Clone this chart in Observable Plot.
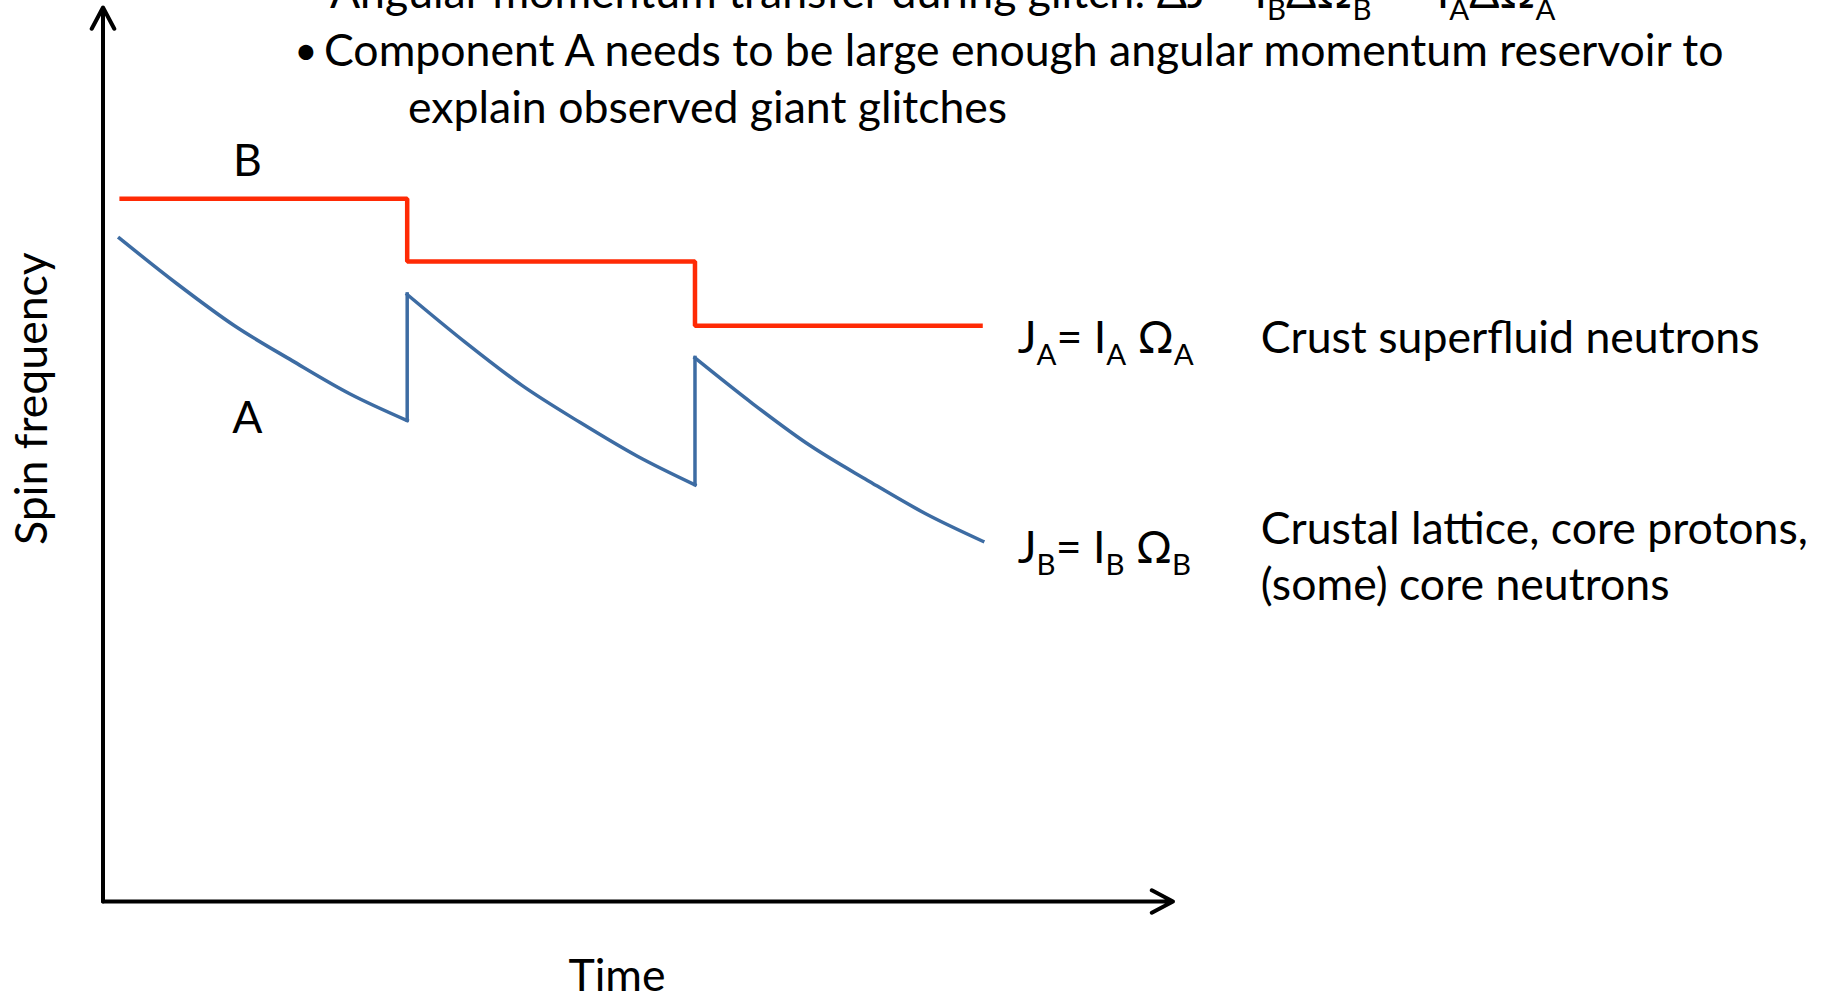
<!DOCTYPE html>
<html>
<head>
<meta charset="utf-8">
<script src="https://cdn.jsdelivr.net/npm/d3@7"></script>
<script src="https://cdn.jsdelivr.net/npm/@observablehq/plot@0.6"></script>
<style>
  html, body { margin: 0; padding: 0; background: #fff; overflow: hidden; }
  #chart { width: 1826px; height: 995px; }
</style>
</head>
<body>
<div id="chart"></div>
<script>
// ---------------- data ----------------
// Component B (red): step levels at glitch times
const stepTimes = [0, 1, 2, 3];
const levelB = [78.6, 71.6, 64.4, 64.4];

// Component A (blue): three decaying segments between glitches
const segTimes = [
  [0.0, 0.2, 0.4, 0.6, 0.8, 1.0],
  [1.0, 1.2, 1.4, 1.6, 1.8, 2.0],
  [2.0, 2.2, 2.4, 2.6, 2.8, 3.0]
];
const segValues = [
  [74.2, 69.1, 64.4, 60.5, 56.8, 53.8],
  [67.9, 62.6, 57.7, 53.6, 49.8, 46.6],
  [60.8, 55.7, 51.0, 47.1, 43.4, 40.3]
];

// axis extents (time, spin frequency)
const axisX = [-0.057, 3.661];
const axisY = [0, 100];

// texts
const titleLines = [
  "Angular momentum transfer during glitch: ΔJ = I_BΔΩ_B = -I_AΔΩ_A",
  "Component A needs to be large enough angular momentum reservoir to",
  "explain observed giant glitches"
];
const seriesLabels = ["B", "A"];
const eqLabels = ["J_A= I_A Ω_A", "J_B= I_B Ω_B"];
const descLabels = ["Crust superfluid neutrons", "Crustal lattice, core protons,\n(some) core neutrons"];
const xLabel = "Time";
const yLabel = "Spin frequency";

// ---------------- build tables ----------------
const redPts = stepTimes.map((t, i) => ({t, v: levelB[i]}));
const bluePts = segTimes.flatMap((ts, s) => ts.map((t, i) => ({seg: s, t, v: segValues[s][i]})));
const jumps = segTimes.slice(1).map((ts, s) => ({
  t: ts[0],
  lo: segValues[s][segValues[s].length - 1],
  hi: segValues[s + 1][0]
}));
const axes = [
  {x1: axisX[0], y1: axisY[0], x2: axisX[0], y2: axisY[1]},
  {x1: axisX[0], y1: axisY[0], x2: axisX[1], y2: axisY[0]}
];
const last = a => a[a.length - 1];
const redEnd = [{t: last(stepTimes), v: last(levelB)}];
const blueEnd = [{t: last(last(segTimes)), v: last(last(segValues))}];
const redStart = [{t: stepTimes[0], v: levelB[0]}];
const blueSeg1End = [{t: segTimes[0][0], v: last(segValues[0])}];

// ---------------- font fitting ----------------
const FONT = "Lato, 'Open Sans', sans-serif";
function fitFontSize() {
  const ctx = document.createElement("canvas").getContext("2d");
  ctx.font = "100px Lato";
  const targets = [
    ["explain observed giant glitches", 597],
    ["Component A needs to be large enough angular momentum reservoir to", 1411],
    ["Crust superfluid neutrons", 495],
    ["Crustal lattice, core protons,", 547],
    ["(some) core neutrons", 417],
    ["Time", 96]
  ];
  return d3.mean(targets, ([s, w]) => w / ctx.measureText(s).width * 100);
}
const fs = fitFontSize();

const RED = "#ff2a05";
const BLUE = "#3d6ca3";

const plot = Plot.plot({
  width: 1826,
  height: 995,
  marginLeft: 102.5,
  marginRight: 653.5,
  marginTop: 7,
  marginBottom: 94,
  x: {domain: axisX, axis: null},
  y: {domain: axisY, axis: null},
  style: {background: "white", color: "black", overflow: "visible"},
  marks: [
    Plot.arrow(axes, {x1: "x1", y1: "y1", x2: "x2", y2: "y2", stroke: "black", strokeWidth: 4, headLength: 9, headAngle: 56}),
    Plot.line(redPts, {x: "t", y: "v", curve: "step-after", stroke: RED, strokeWidth: 4.5, strokeLinejoin: "miter", strokeLinecap: "butt"}),
    Plot.line(bluePts, {x: "t", y: "v", z: "seg", curve: "monotone-x", stroke: BLUE, strokeWidth: 3.5, strokeLinecap: "square"}),
    Plot.ruleX(jumps, {x: "t", y1: "lo", y2: "hi", stroke: BLUE, strokeWidth: 3.5, strokeLinecap: "square"}),

    // series labels
    Plot.text(redStart, {x: "t", y: "v", text: () => seriesLabels[0], dx: 128, dy: -23, lineAnchor: "bottom", textAnchor: "middle", fontFamily: FONT, fontSize: fs}),
    Plot.text(blueSeg1End, {x: "t", y: "v", text: () => seriesLabels[1], dx: 128, dy: 12, lineAnchor: "bottom", textAnchor: "middle", fontFamily: FONT, fontSize: fs}),

    // equations & descriptions
    Plot.text(redEnd, {x: "t", y: "v", text: () => eqLabels[0], dx: 35, dy: 27, lineAnchor: "bottom", textAnchor: "start", fontFamily: FONT, fontSize: fs}),
    Plot.text(blueEnd, {x: "t", y: "v", text: () => eqLabels[1], dx: 35, dy: 22, lineAnchor: "bottom", textAnchor: "start", fontFamily: FONT, fontSize: fs}),
    Plot.text(redEnd, {x: "t", y: "v", text: () => descLabels[0], dx: 278, dy: 27, lineAnchor: "bottom", textAnchor: "start", fontFamily: FONT, fontSize: fs}),
    Plot.text(blueEnd, {x: "t", y: "v", text: () => descLabels[1], dx: 278, dy: 59, lineAnchor: "bottom", textAnchor: "start", lineHeight: 56 / fs, fontFamily: FONT, fontSize: fs}),

    // axis labels
    Plot.text([xLabel], {frameAnchor: "bottom", dx: -21, dy: 89, lineAnchor: "bottom", textAnchor: "middle", fontFamily: FONT, fontSize: fs}),
    Plot.text([yLabel], {frameAnchor: "left", rotate: -90, dx: -56, dy: -56, lineAnchor: "bottom", textAnchor: "middle", fontFamily: FONT, fontSize: fs}),

    // bullet text at top
    Plot.text([titleLines[0]], {frameAnchor: "top-left", dx: 227, dy: 0, lineAnchor: "bottom", textAnchor: "start", fontFamily: FONT, fontSize: fs}),
    Plot.text(["•"], {frameAnchor: "top-left", dx: 203, dy: 57, lineAnchor: "bottom", textAnchor: "middle", fontFamily: FONT, fontSize: fs * 0.9}),
    Plot.text([titleLines[1]], {frameAnchor: "top-left", dx: 221, dy: 58, lineAnchor: "bottom", textAnchor: "start", fontFamily: FONT, fontSize: fs}),
    Plot.text([titleLines[2]], {frameAnchor: "top-left", dx: 305, dy: 115, lineAnchor: "bottom", textAnchor: "start", fontFamily: FONT, fontSize: fs})
  ]
});

// subscripts: turn "_X" into a lowered, smaller tspan
const svgNS = "http://www.w3.org/2000/svg";
const subSize = 0.66 * fs;
const subShift = 0.27 * fs;
plot.querySelectorAll("text").forEach(el => {
  if (el.querySelector("tspan")) return;
  const s = el.textContent;
  if (!/_[A-Z]/.test(s)) return;
  const parts = s.split(/_([A-Z])/);
  el.textContent = "";
  let off = 0;
  parts.forEach((p, i) => {
    if (p === "") return;
    const isSub = i % 2 === 1;
    const ts = document.createElementNS(svgNS, "tspan");
    const target = isSub ? subShift : 0;
    if (target !== off) { ts.setAttribute("dy", target - off); off = target; }
    if (isSub) ts.setAttribute("font-size", subSize);
    ts.textContent = p;
    el.appendChild(ts);
  });
});

document.getElementById("chart").appendChild(plot);
</script>
</body>
</html>
